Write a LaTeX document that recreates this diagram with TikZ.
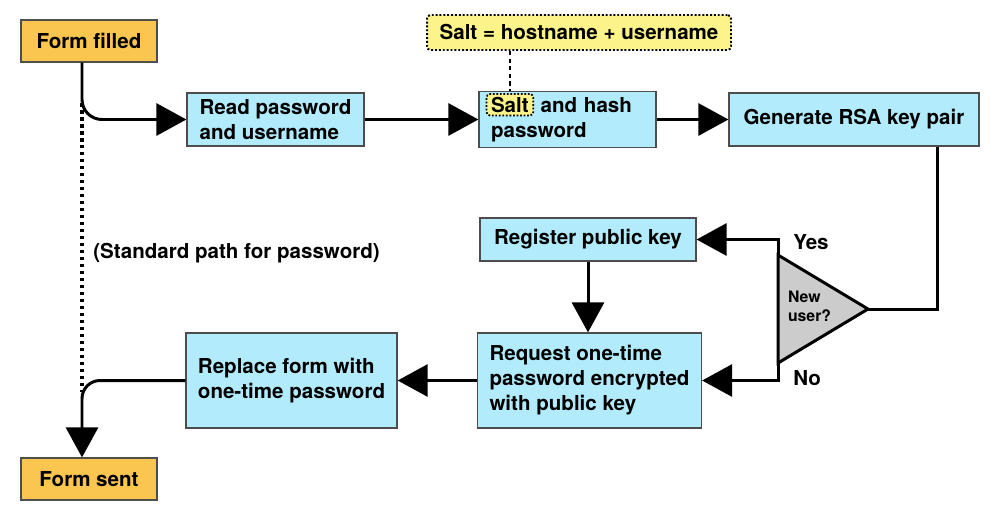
\documentclass[tikz,border=0pt]{standalone}
\usepackage{fontspec}
\setmainfont{TeX Gyre Heros}
\usepackage{xcolor}
\usepackage{tikz}
\usetikzlibrary{arrows.meta}
\definecolor{form_orange}{HTML}{FAC64F}
\definecolor{proc_blue}{HTML}{B2EBFC}
\definecolor{note_yellow}{HTML}{FDF38B}
\definecolor{tri_gray}{HTML}{CCCCCC}
\definecolor{edge_gray}{HTML}{4D4D4D}
\tikzset{ proc_box/.style = {rectangle, draw=edge_gray, line width=0.7pt, fill=proc_blue, align=left, inner xsep=0.24cm, minimum height=1.06cm} }
\tikzset{ form_box/.style = {rectangle, draw=edge_gray, line width=0.7pt, fill=form_orange, align=center, minimum width=2.72cm, minimum height=0.84cm} }
\tikzset{ note_box/.style = {rectangle, rounded corners=2pt, draw, line width=1.1pt, dash pattern=on 1.1pt off 1.1pt, fill=note_yellow, align=center, minimum width=6.08cm, minimum height=0.7cm} }
\tikzset{ salt_mark/.style = {rectangle, rounded corners=2pt, draw, line width=1pt, dash pattern=on 1pt off 1pt, fill=note_yellow, inner xsep=0.09cm, inner ysep=0.06cm} }
\tikzset{ flow/.style = {line width=1.7pt, -{Triangle[length=0.6cm, width=0.64cm]}} }
\tikzset{ plain_line/.style = {line width=1.7pt} }
\tikzset{ note_link/.style = {draw=black, line width=0.8pt, dash pattern=on 2.5pt off 1.8pt} }
\tikzset{ std_path/.style = {line width=2pt, dash pattern=on 0.07cm off 0.07cm} }

\begin{document}
\begin{tikzpicture}[x=0.02cm, y=-0.02cm, font=\fontsize{11.7pt}{14.2pt}\selectfont\bfseries]
        \useasboundingbox (0,0) rectangle (1000,521);
        % boxes
        \node[form_box] (filled) at (89,41) {Form filled};
        \node[proc_box, minimum width=3.54cm] (read) at (275.5,119.5) {Read password\\and username};
        \node[proc_box, text width=3.06cm] (hash) at (567.5,119.5) {\hphantom{Salt}\hspace{0.1cm} and hash\\password};
        \node[salt_mark, anchor=text] (salt) at (hash.text) {Salt};
        \node[proc_box, minimum width=5cm, align=center] (rsa) at (854,119.5) {Generate RSA key pair};
        \node[note_box] (note) at (579,32.5) {Salt = hostname + username};
        \node[proc_box, minimum width=4.32cm, align=center, minimum height=0.86cm] (register) at (588,239.5) {Register public key};
        \node[proc_box, minimum width=4.42cm, minimum height=1.9cm] (request) at (589.5,380.5) {Request one-time\\password encrypted\\with public key};
        \node[proc_box, minimum width=4.18cm, minimum height=1.9cm] (replace) at (291.5,380.5) {Replace form with\\one-time password};
        \node[form_box] (sent) at (89,479) {Form sent};
        % decision
        \coordinate (qtop) at (778,255);
        \coordinate (qbot) at (778,363);
        \coordinate (qtip) at (868,309);
        \draw[plain_line, fill=tri_gray, line join=miter] (qtop) -- (qtip) -- (qbot) -- cycle;
        \node[font=\fontsize{9pt}{11.3pt}\selectfont\bfseries, text width=1.2cm, align=left, inner sep=0, anchor=text] (newuser) at (788,302) {New\\user?};
        \node[anchor=base west, inner sep=0] (yes) at (793,249) {Yes};
        \node[anchor=base west, inner sep=0] (no) at (793,385) {No};
        \node[anchor=base west, inner sep=0] (stdpath) at (93,258) {(Standard path for password)};
        % connectors
        \coordinate (trunk) at (82,103);
        \coordinate (trunkend) at (82,392);
        \coordinate (turn) at (937,309);
        \draw[flow, rounded corners=0.4cm] (filled.south -| trunk) |- (read.west);
        \draw[flow] (read.east) -- (hash.west);
        \draw[flow] (hash.east) -- (rsa.west);
        \draw[note_link] (note.south -| salt.north) -- (hash.north -| salt.north);
        \draw[plain_line] (rsa.south -| turn) -- (turn) -- (qtip);
        \draw[flow] (qtop) |- (register.east);
        \draw[flow] (qbot) |- (request.east);
        \draw[flow] (register.south) -- (request.north -| register.south);
        \draw[flow] (request.west) -- (replace.east);
        \draw[flow, rounded corners=0.36cm] (replace.west) -| (sent.north -| trunk);
        \draw[std_path] (trunk) -- (trunkend);
    \end{tikzpicture}
\end{document}
